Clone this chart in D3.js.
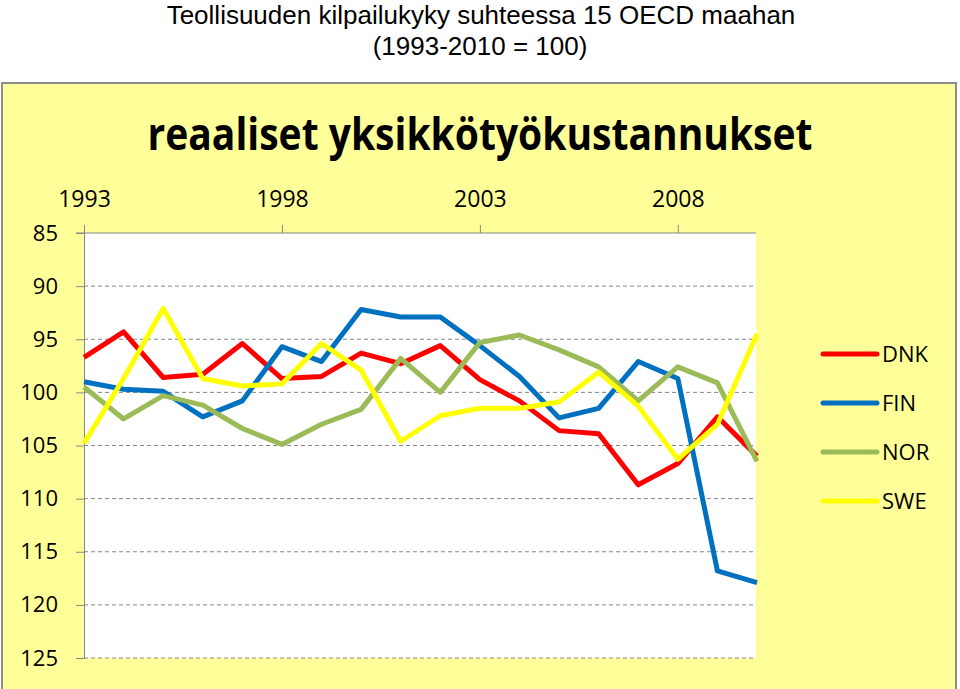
<!DOCTYPE html>
<html>
<head>
<meta charset="utf-8">
<script src="https://cdn.jsdelivr.net/npm/d3@7/dist/d3.min.js"></script>
<style>
  body { margin: 0; background: #fff; }
  svg { display: block; }
</style>
</head>
<body>
<div id="chart"></div>
<script>
const years = d3.range(1993, 2011)
const yTicks = [85, 90, 95, 100, 105, 110, 115, 120, 125]
const xTicks = [1993, 1998, 2003, 2008]

// index values, one per year 1993-2010
const dnk = [96.7, 94.3, 98.6, 98.3, 95.4, 98.7, 98.5, 96.3, 97.3, 95.6, 98.8, 100.8, 103.6, 103.9, 108.7, 106.7, 102.3, 106.0]
const fin = [99.0, 99.7, 99.9, 102.3, 100.8, 95.7, 97.1, 92.2, 92.9, 92.9, 95.6, 98.5, 102.4, 101.5, 97.1, 98.7, 116.8, 117.9]
const nor = [99.5, 102.5, 100.3, 101.2, 103.4, 104.9, 103.0, 101.6, 96.8, 100.0, 95.3, 94.6, 96.0, 97.6, 100.8, 97.6, 99.1, 106.5]
const swe = [104.8, 98.7, 92.1, 98.7, 99.4, 99.2, 95.4, 97.9, 104.6, 102.2, 101.5, 101.5, 100.9, 98.1, 101.3, 106.3, 103.0, 94.5]

const series = [
  { name: 'DNK', values: dnk, color: '#ff0000' },
  { name: 'FIN', values: fin, color: '#0070c0' },
  { name: 'NOR', values: nor, color: '#9bbb59' },
  { name: 'SWE', values: swe, color: '#ffff00' }
]

const width = 960, height = 689
const plot = { left: 84, right: 756, top: 233, bottom: 658 }

const svg = d3.select('#chart').append('svg')
  .attr('width', width)
  .attr('height', height)

// page title
svg.append('text')
  .attr('x', 481).attr('y', 24)
  .attr('text-anchor', 'middle')
  .style('font-family', '"Liberation Sans", Arial, sans-serif')
  .style('font-size', '26px')
  .text('Teollisuuden kilpailukyky suhteessa 15 OECD maahan')
svg.append('text')
  .attr('x', 480).attr('y', 55)
  .attr('text-anchor', 'middle')
  .style('font-family', '"Liberation Sans", Arial, sans-serif')
  .style('font-size', '26px')
  .text('(1993-2010 = 100)')

// yellow chart box
svg.append('rect')
  .attr('x', 2).attr('y', 83)
  .attr('width', 954).attr('height', 620)
  .attr('fill', '#ffff99')
  .attr('stroke', '#8c8c8c')
  .attr('stroke-width', 2)

svg.append('text')
  .attr('x', 480).attr('y', 150)
  .attr('text-anchor', 'middle')
  .attr('textLength', 665)
  .attr('lengthAdjust', 'spacingAndGlyphs')
  .style('font-family', '"Open Sans", sans-serif')
  .style('font-weight', 'bold')
  .style('font-size', '44px')
  .text('reaaliset yksikkötyökustannukset')

const x = d3.scaleLinear().domain([1993, 2010]).range([plot.left, 757])
const y = d3.scaleLinear().domain([85, 125]).range([plot.top, plot.bottom])

svg.append('rect')
  .attr('x', plot.left).attr('y', plot.top)
  .attr('width', plot.right - plot.left).attr('height', plot.bottom - plot.top)
  .attr('fill', '#fff')

// dashed grid
svg.append('g')
  .selectAll('line')
  .data(yTicks.slice(1))
  .join('line')
  .attr('x1', plot.left).attr('x2', plot.right)
  .attr('y1', d => y(d)).attr('y2', d => y(d))
  .attr('stroke', '#868686')
  .attr('stroke-width', 1)
  .attr('stroke-dasharray', '4,3')

const labelFont = '"Open Sans", sans-serif'

const yAxis = svg.append('g')
  .attr('transform', `translate(${plot.left},0)`)
  .call(d3.axisLeft(y).tickValues(yTicks).tickSize(8).tickPadding(18))
yAxis.select('.domain').attr('stroke', '#868686')
yAxis.selectAll('.tick line').attr('stroke', '#868686')
yAxis.selectAll('text')
  .style('font-family', labelFont)
  .style('font-size', '22px')
  .attr('fill', '#000')

const xAxis = svg.append('g')
  .attr('transform', `translate(0,${plot.top})`)
  .call(d3.axisTop(x).tickValues(xTicks).tickFormat(d3.format('d')).tickSize(8).tickPadding(18))
xAxis.select('.domain')
  .attr('d', `M${plot.left - 8},0H${plot.right}`)
  .attr('stroke', '#868686')
xAxis.selectAll('.tick line').attr('stroke', '#868686')
xAxis.selectAll('text')
  .style('font-family', labelFont)
  .style('font-size', '23px')
  .attr('fill', '#000')

const line = d3.line()
  .x((d, i) => x(years[i]))
  .y(d => y(d))

svg.append('g')
  .selectAll('path')
  .data(series)
  .join('path')
  .attr('d', d => line(d.values))
  .attr('fill', 'none')
  .attr('stroke', d => d.color)
  .attr('stroke-width', 5)
  .attr('stroke-linejoin', 'round')

// legend
const legend = svg.append('g')
  .selectAll('g')
  .data(series)
  .join('g')
  .attr('transform', (d, i) => `translate(823,${354 + i * 49})`)
legend.append('line')
  .attr('x1', 0).attr('x2', 54)
  .attr('stroke', d => d.color)
  .attr('stroke-width', 5)
  .attr('stroke-linecap', 'round')
legend.append('text')
  .attr('x', 59).attr('y', 8)
  .style('font-family', labelFont)
  .style('font-size', '22px')
  .text(d => d.name)
</script>
</body>
</html>
